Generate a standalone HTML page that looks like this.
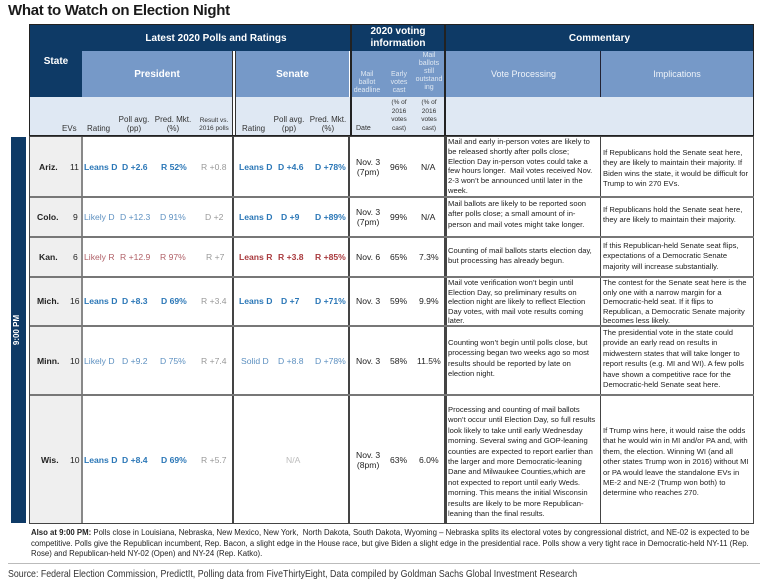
<!DOCTYPE html>
<html><head><meta charset="utf-8"><style>
body{margin:0;width:768px;height:588px;background:#fff;position:relative;overflow:hidden;font-family:"Liberation Sans",Arial,sans-serif;color:#222}
div{position:absolute;box-sizing:border-box}
.d{background:#0e3a66}
.m{background:#7699c8}
.l{background:#dfe8f3}
.c{display:flex;align-items:center;justify-content:center;text-align:center}
.hw{color:#fff;font-weight:bold;font-size:10px}
.hs{color:#dfe8f2;font-size:7px;line-height:8px}
.sh{font-size:8px;color:#333;line-height:9px;text-align:center;white-space:nowrap}
.t{font-size:8.6px;white-space:nowrap;transform:translateY(-50%)}
.b{font-weight:bold}
.ld{color:#2b77b7;font-weight:bold}
.lk{color:#5d90c0}
.lr{color:#b06067}
.br{color:#a93a3e;font-weight:bold}
.g{color:#999}
.tx{font-size:7.6px;line-height:10.4px;white-space:nowrap;color:#222}
.vl{background:#444;width:1.5px}
.hl{background:#777;height:1.5px}
</style></head><body>
<div style="left:8px;top:2px;font-size:15px;font-weight:bold;color:#1a1a1a;letter-spacing:-0.3px">What to Watch on Election Night</div>

<!-- header -->
<div class="d c hw" style="left:30px;top:25px;width:52px;height:72px">State</div>
<div class="d c hw" style="left:82px;top:25px;width:268px;height:26px">Latest 2020 Polls and Ratings</div>
<div class="m c hw" style="left:82px;top:51px;width:150px;height:46px">President</div>
<div class="m c hw" style="left:236px;top:51px;width:113px;height:46px">Senate</div>
<div style="left:232px;top:51px;width:4px;height:84px;background:#fff;border-left:1.5px solid #333;border-right:1.5px solid #333"></div>
<div class="l" style="left:30px;top:97px;width:202px;height:38px"></div>
<div class="l" style="left:236px;top:97px;width:114px;height:38px"></div>
<div style="left:29px;top:24px;width:322px;height:112px;border:1.5px solid #222"></div>

<div class="d c hw" style="left:352px;top:25px;width:92px;height:26px;line-height:12px">2020 voting<br>information</div>
<div class="m" style="left:352px;top:51px;width:92px;height:46px"></div>
<div class="l" style="left:352px;top:97px;width:92px;height:38px"></div>
<div style="left:351px;top:24px;width:94px;height:112px;border:1.5px solid #222"></div>
<div class="hs" style="left:352px;top:71px;width:30px;text-align:center">Mail<br>ballot<br>deadline</div>
<div class="hs" style="left:384px;top:71px;width:30px;text-align:center">Early<br>votes<br>cast</div>
<div class="hs" style="left:414px;top:52px;width:30px;text-align:center">Mail<br>ballots<br>still<br>outstand<br>ing</div>

<div class="d c hw" style="left:446px;top:25px;width:307px;height:26px">Commentary</div>
<div class="m c" style="left:446px;top:51px;width:155px;height:46px;color:#eef3f9;font-size:9px">Vote Processing</div>
<div class="m c" style="left:601px;top:51px;width:152px;height:46px;color:#eef3f9;font-size:9px">Implications</div>
<div style="left:600px;top:51px;width:1px;height:46px;background:#223"></div>
<div class="l" style="left:446px;top:97px;width:307px;height:38px"></div>
<div style="left:445px;top:24px;width:309px;height:112px;border:1.5px solid #222"></div>

<!-- subheaders -->
<div class="sh" style="left:62px;top:124px">EVs</div>
<div class="sh" style="left:87px;top:124px">Rating</div>
<div class="sh" style="left:117px;top:115px;width:34px">Poll avg.<br>(pp)</div>
<div class="sh" style="left:152px;top:115px;width:42px">Pred. Mkt.<br>(%)</div>
<div class="sh" style="left:196px;top:117px;width:36px;font-size:6.5px;line-height:8px">Result vs.<br>2016 polls</div>
<div class="sh" style="left:242px;top:124px">Rating</div>
<div class="sh" style="left:272px;top:115px;width:34px">Poll avg.<br>(pp)</div>
<div class="sh" style="left:307px;top:115px;width:42px">Pred. Mkt.<br>(%)</div>
<div class="sh" style="left:356px;top:124px;font-size:7px">Date</div>
<div class="sh" style="left:384px;top:99px;width:30px;font-size:6.5px;line-height:8.5px">(% of<br>2016<br>votes<br>cast)</div>
<div class="sh" style="left:414px;top:99px;width:30px;font-size:6.5px;line-height:8.5px">(% of<br>2016<br>votes<br>cast)</div>

<!-- sidebar -->
<div class="d" style="left:11px;top:137px;width:15px;height:386px"></div>
<div style="left:-12px;top:324px;width:60px;height:12px;color:#fff;font-size:8px;font-weight:bold;text-align:center;transform:rotate(-90deg)">9:00 PM</div>

<!-- body grid -->
<div style="left:30px;top:137px;width:52px;height:386px;background:#efefef"></div>
<div style="left:29px;top:136px;width:725px;height:388px;border:1.5px solid #444"></div>
<div class="vl" style="left:81px;top:137px;height:386px;background:#888"></div>
<div class="vl" style="left:232px;top:137px;height:386px"></div>
<div class="vl" style="left:348px;top:137px;height:386px"></div>
<div class="vl" style="left:444px;top:137px;height:386px;width:2.5px"></div>
<div class="vl" style="left:600px;top:137px;height:386px;width:1px"></div>
<div class="hl" style="left:30px;top:196px;width:724px"></div>
<div class="hl" style="left:30px;top:236px;width:724px"></div>
<div class="hl" style="left:30px;top:276px;width:724px"></div>
<div class="hl" style="left:30px;top:325px;width:724px"></div>
<div class="hl" style="left:30px;top:394px;width:724px"></div>

<!-- Ariz -->
<div class="t b" style="left:39px;top:167px">Ariz.</div>
<div class="t" style="left:70px;top:167px">11</div>
<div class="t ld" style="left:84px;top:167px">Leans D</div>
<div class="t ld" style="left:122px;top:167px">D +2.6</div>
<div class="t ld" style="left:161px;top:167px">R 52%</div>
<div class="t g" style="left:201px;top:167px">R +0.8</div>
<div class="t ld" style="left:239px;top:167px">Leans D</div>
<div class="t ld" style="left:278px;top:167px">D +4.6</div>
<div class="t ld" style="left:315px;top:167px">D +78%</div>
<div class="t" style="left:356px;top:167px;text-align:center;line-height:10px">Nov. 3<br>(7pm)</div>
<div class="t" style="left:390px;top:167px">96%</div>
<div class="t" style="left:421px;top:167px">N/A</div>
<div class="tx" style="left:448px;top:137px;line-height:9.8px">Mail and early in-person votes are likely to<br>be released shortly after polls close;<br>Election Day in-person votes could take a<br>few hours longer.&nbsp; Mail votes received Nov.<br>2-3 won’t be announced until later in the<br>week.</div>
<div class="tx" style="left:603px;top:148px">If Republicans hold the Senate seat here,<br>they are likely to maintain their majority. If<br>Biden wins the state, it would be difficult for<br>Trump to win 270 EVs.</div>
<!-- Colo -->
<div class="t b" style="left:37px;top:217px">Colo.</div>
<div class="t" style="left:73px;top:217px">9</div>
<div class="t lk" style="left:84px;top:217px">Likely D</div>
<div class="t lk" style="left:120px;top:217px">D +12.3</div>
<div class="t lk" style="left:160px;top:217px">D 91%</div>
<div class="t g" style="left:205px;top:217px">D +2</div>
<div class="t ld" style="left:239px;top:217px">Leans D</div>
<div class="t ld" style="left:281px;top:217px">D +9</div>
<div class="t ld" style="left:315px;top:217px">D +89%</div>
<div class="t" style="left:356px;top:217px;text-align:center;line-height:10px">Nov. 3<br>(7pm)</div>
<div class="t" style="left:390px;top:217px">99%</div>
<div class="t" style="left:421px;top:217px">N/A</div>
<div class="tx" style="left:448px;top:199px">Mail ballots are likely to be reported soon<br>after polls close; a small amount of in-<br>person and mail votes might take longer.</div>
<div class="tx" style="left:603px;top:205px">If Republicans hold the Senate seat here,<br>they are likely to maintain their majority.</div>
<!-- Kan -->
<div class="t b" style="left:39px;top:257px">Kan.</div>
<div class="t" style="left:73px;top:257px">6</div>
<div class="t lr" style="left:84px;top:257px">Likely R</div>
<div class="t lr" style="left:120px;top:257px">R +12.9</div>
<div class="t lr" style="left:160px;top:257px">R 97%</div>
<div class="t g" style="left:206px;top:257px">R +7</div>
<div class="t br" style="left:239px;top:257px">Leans R</div>
<div class="t br" style="left:278px;top:257px">R +3.8</div>
<div class="t br" style="left:315px;top:257px">R +85%</div>
<div class="t" style="left:356px;top:257px">Nov. 6</div>
<div class="t" style="left:390px;top:257px">65%</div>
<div class="t" style="left:419px;top:257px">7.3%</div>
<div class="tx" style="left:448px;top:246px">Counting of mail ballots starts election day,<br>but processing has already begun.</div>
<div class="tx" style="left:603px;top:241px">If this Republican-held Senate seat flips,<br>expectations of a Democratic Senate<br>majority will increase substantially.</div>
<!-- Mich -->
<div class="t b" style="left:37px;top:301px">Mich.</div>
<div class="t" style="left:70px;top:301px">16</div>
<div class="t ld" style="left:84px;top:301px">Leans D</div>
<div class="t ld" style="left:122px;top:301px">D +8.3</div>
<div class="t ld" style="left:161px;top:301px">D 69%</div>
<div class="t g" style="left:201px;top:301px">R +3.4</div>
<div class="t ld" style="left:239px;top:301px">Leans D</div>
<div class="t ld" style="left:281px;top:301px">D +7</div>
<div class="t ld" style="left:315px;top:301px">D +71%</div>
<div class="t" style="left:356px;top:301px">Nov. 3</div>
<div class="t" style="left:390px;top:301px">59%</div>
<div class="t" style="left:419px;top:301px">9.9%</div>
<div class="tx" style="left:448px;top:278px;line-height:9.6px">Mail vote verification won’t begin until<br>Election Day, so preliminary results on<br>election night are likely to reflect Election<br>Day votes, with mail vote results coming<br>later.</div>
<div class="tx" style="left:603px;top:278px;line-height:9.6px">The contest for the Senate seat here is the<br>only one with a narrow margin for a<br>Democratic-held seat. If it flips to<br>Republican, a Democratic Senate majority<br>becomes less likely.</div>
<!-- Minn -->
<div class="t b" style="left:37px;top:361px">Minn.</div>
<div class="t" style="left:70px;top:361px">10</div>
<div class="t lk" style="left:84px;top:361px">Likely D</div>
<div class="t lk" style="left:122px;top:361px">D +9.2</div>
<div class="t lk" style="left:160px;top:361px">D 75%</div>
<div class="t g" style="left:201px;top:361px">R +7.4</div>
<div class="t lk" style="left:241px;top:361px">Solid D</div>
<div class="t lk" style="left:278px;top:361px">D +8.8</div>
<div class="t lk" style="left:315px;top:361px">D +78%</div>
<div class="t" style="left:356px;top:361px">Nov. 3</div>
<div class="t" style="left:390px;top:361px">58%</div>
<div class="t" style="left:417px;top:361px">11.5%</div>
<div class="tx" style="left:448px;top:338px">Counting won’t begin until polls close, but<br>processing began two weeks ago so most<br>results should be reported by late on<br>election night.</div>
<div class="tx" style="left:603px;top:328px">The presidential vote in the state could<br>provide an early read on results in<br>midwestern states that will take longer to<br>report results (e.g. MI and WI). A few polls<br>have shown a competitive race for the<br>Democratic-held Senate seat here.</div>
<!-- Wis -->
<div class="t b" style="left:41px;top:460px">Wis.</div>
<div class="t" style="left:70px;top:460px">10</div>
<div class="t ld" style="left:84px;top:460px">Leans D</div>
<div class="t ld" style="left:122px;top:460px">D +8.4</div>
<div class="t ld" style="left:161px;top:460px">D 69%</div>
<div class="t g" style="left:201px;top:460px">R +5.7</div>
<div class="t g" style="left:286px;top:460px;color:#bbb">N/A</div>
<div class="t" style="left:356px;top:460px;text-align:center;line-height:10px">Nov. 3<br>(8pm)</div>
<div class="t" style="left:390px;top:460px">63%</div>
<div class="t" style="left:419px;top:460px">6.0%</div>
<div class="tx" style="left:448px;top:405px">Processing and counting of mail ballots<br>won’t occur until Election Day, so full results<br>look likely to take until early Wednesday<br>morning. Several swing and GOP-leaning<br>counties are expected to report earlier than<br>the larger and more Democratic-leaning<br>Dane and Milwaukee Counties,which are<br>not expected to report until early Weds.<br>morning. This means the initial Wisconsin<br>results are likely to be more Republican-<br>leaning than the final results.</div>
<div class="tx" style="left:603px;top:426px">If Trump wins here, it would raise the odds<br>that he would win in MI and/or PA and, with<br>them, the election. Winning WI (and all<br>other states Trump won in 2016) without MI<br>or PA would leave the standalone EVs in<br>ME-2 and NE-2 (Trump won both) to<br>determine who reaches 270.</div>

<!-- footnote -->
<div style="left:31px;top:528px;width:730px;font-size:7.8px;line-height:10.5px;color:#222"><b>Also at 9:00 PM:</b> Polls close in Louisiana, Nebraska, New Mexico, New York,&nbsp; North Dakota, South Dakota, Wyoming – Nebraska splits its electoral votes by congressional district, and NE-02 is expected to be competitive. Polls give the Republican incumbent, Rep. Bacon, a slight edge in the House race, but give Biden a slight edge in the presidential race. Polls show a very tight race in Democratic-held NY-11 (Rep. Rose) and Republican-held NY-02 (Open) and NY-24 (Rep. Katko).</div>
<div style="left:8px;top:563px;width:752px;height:1px;background:#bbb"></div>
<div style="left:8px;top:568px;font-size:10.5px;white-space:nowrap;color:#333;transform:scaleX(0.84);transform-origin:left top">Source: Federal Election Commission, PredictIt, Polling data from FiveThirtyEight, Data compiled by Goldman Sachs Global Investment Research</div>
</body></html>
